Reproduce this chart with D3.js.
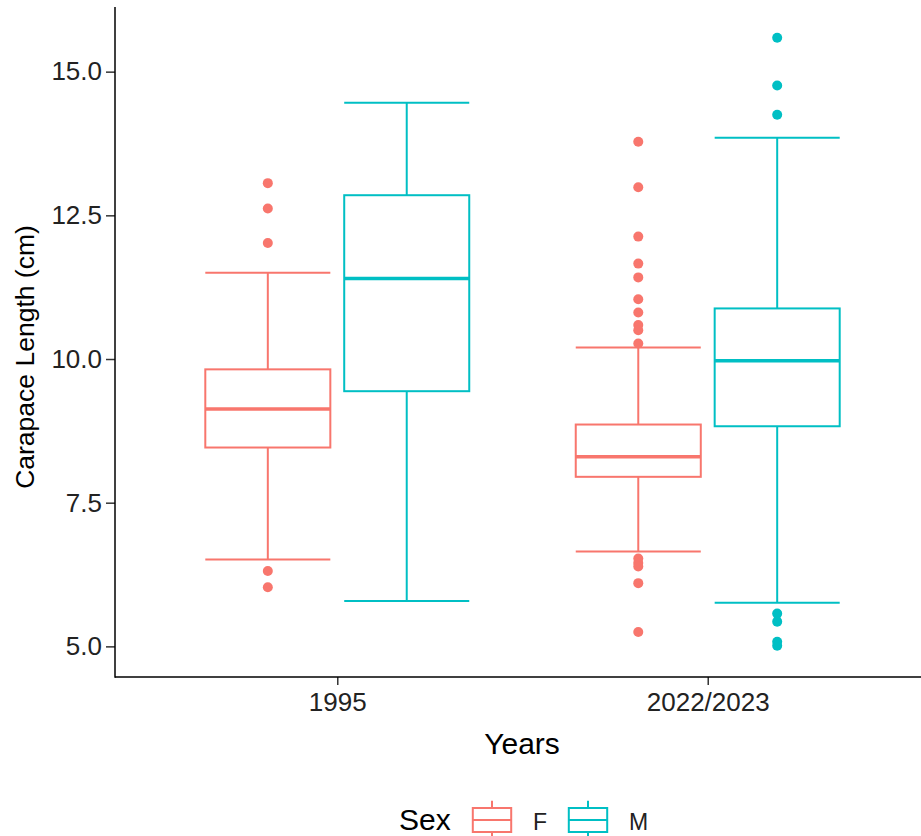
<html>
<head>
  <script src="https://d3js.org/d3.v7.min.js"></script>
  <title>Carapace length by year and sex</title>
</head>
<body style="margin:0; background:white;">
  <div id="chart"></div>
  <script>
    // data
    var years = ["1995", "2022/2023"];
    var sexes = ["F", "M"];
    var boxYear = ["1995", "1995", "2022/2023", "2022/2023"];
    var boxSex = ["F", "M", "F", "M"];
    var whiskerLow = [6.51, 5.79, 6.65, 5.76];
    var q1 = [8.46, 9.44, 7.95, 8.83];
    var median = [9.13, 11.40, 8.30, 9.97];
    var q3 = [9.82, 12.85, 8.86, 10.88];
    var whiskerHigh = [11.50, 14.46, 10.20, 13.85];
    var outliers = [
      [13.06, 12.62, 12.02, 6.31, 6.03],
      [],
      [13.78, 12.99, 12.13, 11.66, 11.42, 11.04, 10.81, 10.59, 10.50, 10.27, 6.53, 6.45, 6.39, 6.10, 5.25],
      [15.59, 14.76, 14.25, 5.57, 5.43, 5.08, 5.01]
    ];
    var yTicks = [5.0, 7.5, 10.0, 12.5, 15.0];
    var sexColors = ["#F8766D", "#00BFC4"];

    var width = 921, height = 836;
    var mLeft = 115, mRight = 930, mTop = 7, mBottom = 677;

    var svg = d3.select("#chart").append("svg")
      .attr("width", width)
      .attr("height", height)
      .style("font-family", "'Liberation Sans', Arial, sans-serif");

    var x = d3.scalePoint().domain(years).range([mLeft, mRight]).padding(0.6);
    var step = x.step();
    var dodge = d3.scaleOrdinal().domain(sexes).range([-0.1875 * step, 0.1875 * step]);
    var boxW = 0.3375 * step;
    var y = d3.scaleLinear().domain([4.467, 16.125]).range([mBottom, mTop]);
    var color = d3.scaleOrdinal().domain(sexes).range(sexColors);

    var boxes = boxYear.map(function(yr, i) {
      return {year: yr, sex: boxSex[i], lo: whiskerLow[i], q1: q1[i], med: median[i],
              q3: q3[i], hi: whiskerHigh[i], out: outliers[i]};
    });

    var g = svg.selectAll("g.box").data(boxes).enter().append("g")
      .attr("class", "box")
      .attr("transform", function(d) { return "translate(" + (x(d.year) + dodge(d.sex)) + ",0)"; })
      .style("stroke", function(d) { return color(d.sex); })
      .style("fill", "none")
      .style("stroke-width", 2);

    // whiskers and caps
    g.append("line").attr("x1", 0).attr("x2", 0)
      .attr("y1", function(d) { return y(d.hi); }).attr("y2", function(d) { return y(d.q3); });
    g.append("line").attr("x1", 0).attr("x2", 0)
      .attr("y1", function(d) { return y(d.q1); }).attr("y2", function(d) { return y(d.lo); });
    g.append("line").attr("x1", -boxW / 2).attr("x2", boxW / 2)
      .attr("y1", function(d) { return y(d.hi); }).attr("y2", function(d) { return y(d.hi); });
    g.append("line").attr("x1", -boxW / 2).attr("x2", boxW / 2)
      .attr("y1", function(d) { return y(d.lo); }).attr("y2", function(d) { return y(d.lo); });
    g.append("rect")
      .attr("x", -boxW / 2).attr("width", boxW)
      .attr("y", function(d) { return y(d.q3); })
      .attr("height", function(d) { return y(d.q1) - y(d.q3); })
      .style("fill", "white");
    g.append("line").attr("x1", -boxW / 2).attr("x2", boxW / 2)
      .attr("y1", function(d) { return y(d.med); }).attr("y2", function(d) { return y(d.med); })
      .style("stroke-width", 3.5);
    g.selectAll("circle").data(function(d) { return d.out; }).enter().append("circle")
      .attr("cx", 0)
      .attr("cy", function(v) { return y(v); })
      .attr("r", 5)
      .style("stroke", "none")
      .style("fill", function() { return color(d3.select(this.parentNode).datum().sex); });

    // axes
    var yAxis = svg.append("g").attr("transform", "translate(" + mLeft + ",0)")
      .call(d3.axisLeft(y).tickValues(yTicks).tickFormat(d3.format(".1f")).tickSize(9).tickPadding(4));
    var xAxis = svg.append("g").attr("transform", "translate(0," + mBottom + ")")
      .call(d3.axisBottom(x).tickSize(8).tickPadding(8));
    [yAxis, xAxis].forEach(function(a) {
      a.select(".domain").remove();
      a.selectAll(".tick line").style("stroke", "#333").style("stroke-width", 1.5);
      a.selectAll("text").style("font-size", "26px").style("fill", "#222")
        .style("font-family", "'Liberation Sans', Arial, sans-serif");
    });
    svg.append("line").attr("x1", mLeft).attr("x2", mLeft).attr("y1", mTop).attr("y2", mBottom + 0.75)
      .style("stroke", "black").style("stroke-width", 1.5);
    svg.append("line").attr("x1", mLeft).attr("x2", width).attr("y1", mBottom).attr("y2", mBottom)
      .style("stroke", "black").style("stroke-width", 1.5);

    // axis titles
    svg.append("text").attr("x", (mLeft + width) / 2 + 4).attr("y", 754)
      .attr("text-anchor", "middle").style("font-size", "30px").text("Years");
    svg.append("text").attr("transform", "translate(34,357) rotate(-90)")
      .attr("text-anchor", "middle").style("font-size", "26.5px").text("Carapace Length (cm)");

    // legend
    var legend = svg.append("g");
    legend.append("text").attr("x", 399).attr("y", 830).style("font-size", "30px").text("Sex");
    var keyX = d3.scaleOrdinal().domain(sexes).range([468, 564]);
    var key = legend.selectAll("g.key").data(sexes).enter().append("g")
      .attr("transform", function(d) { return "translate(" + keyX(d) + ",796)"; });
    key.append("line").attr("x1", 24).attr("x2", 24).attr("y1", 4.8).attr("y2", 43.2)
      .style("stroke", function(d) { return color(d); }).style("stroke-width", 2);
    key.append("rect").attr("x", 4.8).attr("y", 12).attr("width", 38.4).attr("height", 24)
      .style("fill", "white").style("stroke", function(d) { return color(d); }).style("stroke-width", 2);
    key.append("line").attr("x1", 4.8).attr("x2", 43.2).attr("y1", 24).attr("y2", 24)
      .style("stroke", function(d) { return color(d); }).style("stroke-width", 2);
    key.append("text").attr("x", 65).attr("y", 34).style("font-size", "23px").style("fill", "#222")
      .text(function(d) { return d; });
  </script>
</body>
</html>
